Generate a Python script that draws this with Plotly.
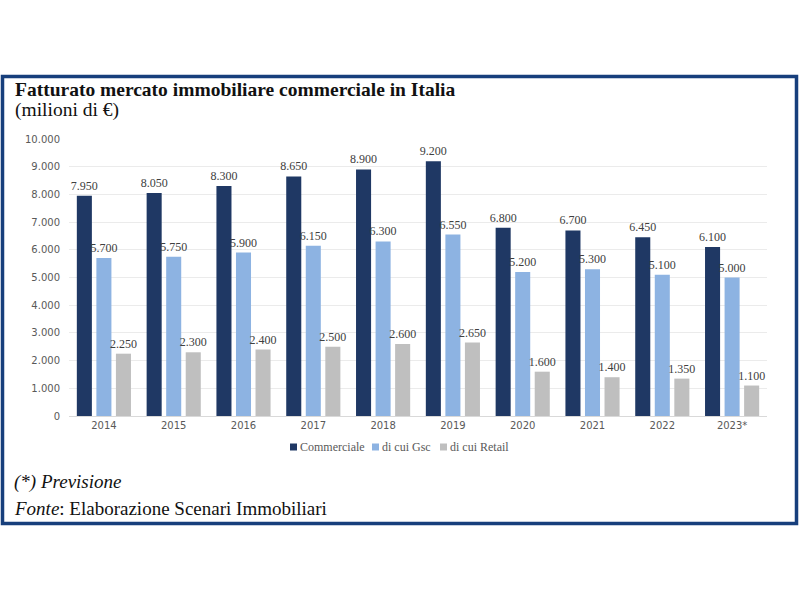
import plotly.graph_objects as go

years = ["2014", "2015", "2016", "2017", "2018", "2019", "2020", "2021", "2022", "2023*"]
commerciale = [7950, 8050, 8300, 8650, 8900, 9200, 6800, 6700, 6450, 6100]
gsc = [5700, 5750, 5900, 6150, 6300, 6550, 5200, 5300, 5100, 5000]
retail = [2250, 2300, 2400, 2500, 2600, 2650, 1600, 1400, 1350, 1100]
y_ticks = [0, 1000, 2000, 3000, 4000, 5000, 6000, 7000, 8000, 9000, 10000]
y_tick_labels = ["0", "1.000", "2.000", "3.000", "4.000", "5.000", "6.000", "7.000", "8.000", "9.000", "10.000"]
series_names = ["Commerciale", "di cui Gsc", "di cui Retail"]

def fmt(v):
    return f"{v:,}".replace(",", ".")

W, H = 800, 600
L, R, T, B = 69, 33, 139, 184
PW = W - L - R
PH = H - T - B

def px(x):
    return (x - L) / PW

def py(y):
    return (H - B - y) / PH

SERIF = "Liberation Serif"
SANS = "DejaVu Sans"
COLORS = ["#1f3864", "#8db3e2", "#bfbfbf"]

fig = go.Figure()
for name, vals, col in zip(series_names, [commerciale, gsc, retail], COLORS):
    fig.add_trace(go.Bar(
        x=years, y=vals, name=name, marker_color=col, marker_line_width=0,
        text=[fmt(v) for v in vals], textposition="outside", cliponaxis=False,
        constraintext="none",
        textfont=dict(family=SERIF, size=12, color="#404040"),
        outsidetextfont=dict(family=SERIF, size=12, color="#404040"),
    ))

fig.update_layout(
    width=W, height=H,
    margin=dict(l=L, r=R, t=T, b=B),
    paper_bgcolor="white", plot_bgcolor="white",
    barmode="group", bargap=0.16, bargroupgap=0.23,
    showlegend=False,
    xaxis=dict(showgrid=False, showline=True, linecolor="#d9d9d9", linewidth=1,
               ticks="", tickfont=dict(family=SANS, size=10, color="#595959")),
    yaxis=dict(range=[0, 10000], tickvals=y_ticks, ticktext=y_tick_labels,
               showgrid=True, gridcolor="#ebebeb", gridwidth=1, zeroline=False,
               showline=False, ticks="", ticklabelstandoff=8,
               tickfont=dict(family=SANS, size=10, color="#595959")),
)

# Frame
fig.add_shape(type="rect", xref="paper", yref="paper",
              x0=px(2.5), x1=px(796.5), y0=py(523.5), y1=py(76.5),
              line=dict(color="#173f7c", width=3.5), fillcolor="rgba(0,0,0,0)", layer="above")

# Legend (compact, Excel-like)
leg_x = [290, 372, 440]
for name, col, lx in zip(series_names, COLORS, leg_x):
    fig.add_shape(type="rect", xref="paper", yref="paper",
                  x0=px(lx), x1=px(lx + 7), y0=py(450.5), y1=py(443.5),
                  line=dict(width=0), fillcolor=col)
    fig.add_annotation(text=name, xref="paper", yref="paper", x=px(lx + 8), y=py(447),
                       xanchor="left", yanchor="middle", showarrow=False,
                       font=dict(family=SERIF, size=12, color="#595959"))

def note(text, x, y, size, bold=False, italic=False):
    fig.add_annotation(text=text, xref="paper", yref="paper", x=px(x), y=py(y),
                       xanchor="left", yanchor="middle", showarrow=False,
                       font=dict(family=SERIF, size=size, color="#111111",
                                 weight="bold" if bold else "normal",
                                 style="italic" if italic else "normal"))

note("Fatturato mercato immobiliare commerciale in Italia", 13, 90, 19.5, bold=True)
note("(milioni di €)", 13, 110, 19.5)
note("(*) Previsione", 12, 482, 19, italic=True)
note("<i>Fonte</i>: Elaborazione Scenari Immobiliari", 12, 508, 19)

fig.write_html("out.html", config={"displayModeBar": False},
               post_script="document.body.style.margin='0';document.body.style.overflow='hidden';")
